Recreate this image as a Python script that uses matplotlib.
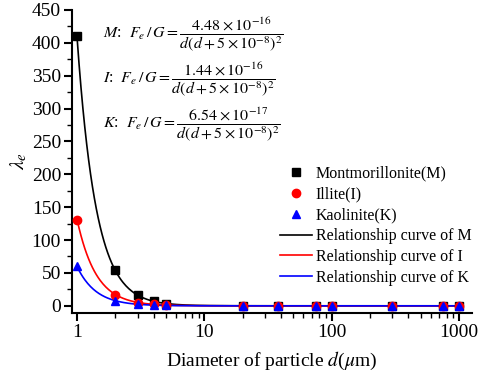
import numpy as np
import matplotlib
matplotlib.use("Agg")
import matplotlib.pyplot as plt
from matplotlib.lines import Line2D
from matplotlib.ticker import MultipleLocator, LogLocator, NullFormatter

plt.rcParams["font.family"] = ["Liberation Serif", "DejaVu Serif"]
plt.rcParams["mathtext.fontset"] = "stix"

# 粒径 (um)
d_pts = [1, 2, 3, 4, 5, 20, 38, 75, 100, 300, 750, 1000]
lam_m = [410, 54, 16, 7, 3.5, 0.05, 0, 0, 0, 0, 0, 0]
lam_i = [131, 17, 5, 2.2, 1.1, 0, 0, 0, 0, 0, 0, 0]
lam_k = [60, 8, 2.4, 1.0, 0.5, 0, 0, 0, 0, 0, 0, 0]

# 公式分子系数 (F_e/G = a / (d (d+5e-8)^2), d 单位 m)
coef_m = 4.48e-16
coef_i = 1.44e-16
coef_k = 6.54e-17
gap = 5e-8

labels = ["Montmorillonite(M)", "Illite(I)", "Kaolinite(K)"]
curve_labels = ["Relationship curve of M", "Relationship curve of I",
                "Relationship curve of K"]
colors = ["black", "red", "blue"]
markers = ["s", "o", "^"]

fig = plt.figure(figsize=(4.84, 3.79), dpi=100)
ax = fig.add_axes([0.149, 0.174, 0.826, 0.8])

d_curve = np.logspace(0, 3, 400)
for coef, c in zip([coef_m, coef_i, coef_k], colors):
    dm = d_curve * 1e-6
    ax.plot(d_curve, coef / (dm * (dm + gap) ** 2), color=c, lw=1.2, zorder=2)

for vals, c, mk in zip([lam_m, lam_i, lam_k], colors, markers):
    ax.plot(d_pts, vals, ls="none", marker=mk, color=c, ms=6, zorder=3)

ax.set_xscale("log")
ax.set_xlim(0.913, 1266)
ax.set_ylim(-11, 450)
ax.yaxis.set_major_locator(MultipleLocator(50))
ax.yaxis.set_minor_locator(MultipleLocator(25))
ax.xaxis.set_minor_locator(LogLocator(base=10, subs=np.arange(2, 10), numticks=20))
ax.xaxis.set_minor_formatter(NullFormatter())
ax.set_xticks([1, 10, 100, 1000])
ax.set_xticklabels(["1", "10", "100", "1000"])

for s in ["top", "right"]:
    ax.spines[s].set_visible(False)
ax.spines["left"].set_linewidth(1.5)
ax.spines["bottom"].set_linewidth(1.5)
ax.tick_params(which="major", direction="out", length=6, width=1.5,
               labelsize=14, pad=2)
ax.tick_params(which="minor", direction="out", length=3.5, width=1)

ax.set_xlabel(r"Diameter of particle $d$($\mu$m)", fontsize=14, labelpad=6)
ax.set_ylabel(r"$\lambda_e$", fontsize=15, labelpad=2)

eqs = [
    r"$M$:  $F_e\,/\,G=\dfrac{4.48\times10^{-16}}{d(d+5\times10^{-8})^2}$",
    r"$I$:  $F_e\,/\,G=\dfrac{1.44\times10^{-16}}{d(d+5\times10^{-8})^2}$",
    r"$K$:  $F_e\,/\,G=\dfrac{6.54\times10^{-17}}{d(d+5\times10^{-8})^2}$",
]
for i, eq in enumerate(eqs):
    fig.text(0.213, 1 - (35 + 45 * i) / 379, eq, fontsize=11.5, va="center", ha="left")

handles = [Line2D([], [], ls="none", marker=mk, color=c, ms=6)
           for c, mk in zip(colors, markers)]
handles += [Line2D([], [], color=c, lw=1.2) for c in colors]
ax.legend(handles, labels + curve_labels, loc="upper left",
          bbox_to_anchor=(0.505, 0.507), frameon=False, fontsize=11.5,
          handlelength=1.95, handletextpad=0.25, labelspacing=0.3,
          borderaxespad=0)

plt.savefig("out.png", dpi=100)
